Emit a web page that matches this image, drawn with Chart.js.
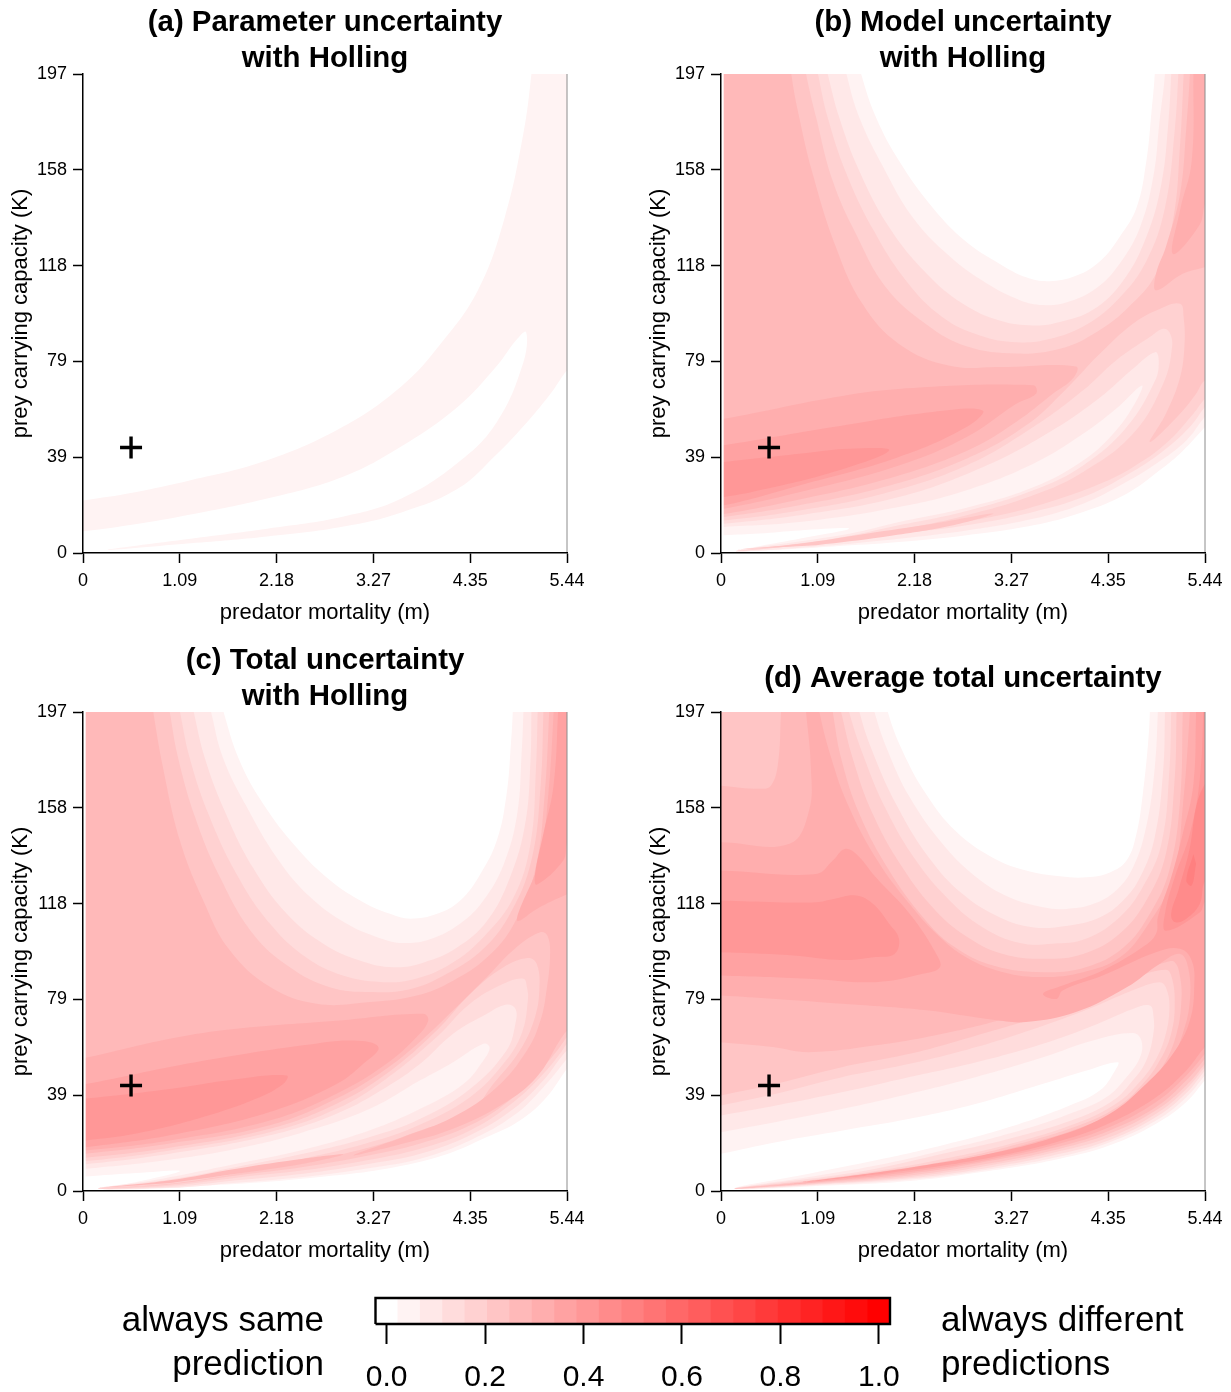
<!DOCTYPE html>
<html><head><meta charset="utf-8">
<script src="https://cdn.jsdelivr.net/npm/chart.js@4"></script>
<style>
html,body{margin:0;padding:0;background:#fff;width:1231px;height:1392px;overflow:hidden}
canvas{position:absolute}
.lab{position:absolute;font-family:'Liberation Sans',Arial,sans-serif;font-size:35px;line-height:44px;color:#000;white-space:nowrap}
</style></head><body>
<canvas id="pa" width="593" height="632" style="left:0;top:2px"></canvas>
<canvas id="pb" width="593" height="632" style="left:638px;top:2px"></canvas>
<canvas id="pc" width="593" height="632" style="left:0;top:640px"></canvas>
<canvas id="pd" width="593" height="632" style="left:638px;top:640px"></canvas>
<canvas id="bar" width="660" height="107" style="left:300px;top:1285px"></canvas>
<div class="lab" style="right:907px;top:1297px;text-align:right">always same<br>prediction</div>
<div class="lab" style="left:941px;top:1297px">always different<br>predictions</div>
<script>
// axis ticks
const xTickValues=[0,1.088,2.176,3.264,4.352,5.44];
const xTickLabels=['0','1.09','2.18','3.27','4.35','5.44'];
const yTickValues=[0,39.4,78.8,118.2,157.6,197];
const yTickLabels=['0','39','79','118','158','197'];
const crossPoint=[0.54,43.4];
const barValues=[0,1,2,3,4,5,6,7,8,9,10,11,12,13,14,15,16,17,18,19,20,21,22].map(k=>k/22);
const barTicks=[0,0.2,0.4,0.6,0.8,1.0];
const barTickLabels=['0.0','0.2','0.4','0.6','0.8','1.0'];

// (a) contour outline, [predator mortality, prey capacity]; outlines run past the axes and are clipped there
const a_L1=[[-.3,20],[0,21.6],[.57,24.9],[1.21,29.9],[2.07,38.1],[2.93,52.1],[3.58,68.6],[4.0,85.1],[4.44,108.2],[4.74,138],[4.95,172.6],[5.04,197],[5.08,215],[5.7,215],[5.7,86],[5.44,75.2],[5.25,65.3],[4.95,52.1],[4.65,40.6],[4.22,26.6],[3.58,16.7],[2.93,10.9],[2.07,6.8],[1.21,4],[.27,1.3],[1.21,5.9],[2.07,10],[2.93,15],[3.58,22.4],[4.22,37.3],[4.65,53.8],[4.95,78.5],[4.98,90.9],[4.87,87.6],[4.65,76.9],[4.22,60.4],[3.58,43.9],[2.93,31.5],[2.07,22.4],[1.21,15.8],[.57,11.7],[0,8.9],[-.3,8]];

// (b) contours
const b_L1=[[-.3,215],[1.45,215],[1.575,197],[1.744,179],[2.006,161],[2.38,142],[2.756,128],[3.13,119],[3.43,113.4],[3.69,111.8],[3.99,114],[4.26,120],[4.48,130],[4.67,142],[4.78,161],[4.84,182],[4.875,197],[4.89,215],[5.7,215],[5.7,62],[5.44,51.8],[5.19,42],[4.93,34],[4.56,24.4],[4.07,16.9],[3.51,11.4],[2.76,7.3],[2,4.5],[1.26,2.7],[.51,1.1],[.17,.8],[.88,5.9],[1.44,10],[.88,9.3],[.43,8],[.03,7.3],[-.3,6.8]];
const b_L2=[[-.3,215],[1.3,215],[1.41,197],[1.556,179],[1.82,159],[2.156,138],[2.57,122],[2.98,111],[3.36,104],[3.62,102],[3.88,103],[4.22,109],[4.48,119],[4.71,134],[4.86,155],[4.93,178],[4.99,197],[5.01,215],[5.7,215],[5.7,66],[5.44,56],[5.23,46.3],[4.89,36.7],[4.52,28.5],[4.07,20.3],[3.51,14.1],[2.76,9.3],[2,5.9],[1.07,2.7],[.17,.8],[1.44,7.9],[2,12.7],[2.76,18.6],[3.51,27],[4.07,38],[4.44,50.4],[4.67,62.7],[4.73,68.9],[4.44,59.3],[4.07,49],[3.51,36.7],[2.76,25.8],[2,18.9],[.88,12.7],[.03,10.7],[-.3,10]];
const b_L3=[[-.3,215],[1.09,215],[1.2,197],[1.33,179],[1.556,157],[1.89,134],[2.31,115],[2.72,102.5],[3.13,95.6],[3.51,93.6],[3.81,95],[4.18,100],[4.52,112],[4.78,130],[4.95,152],[5.03,178],[5.06,197],[5.08,215],[5.7,215],[5.7,70],[5.44,60],[5.27,51.8],[4.93,40.8],[4.52,31.2],[4.07,23],[3.51,16.9],[2.76,11.4],[2,7.9],[1.07,3.8],[.17,.8],[1.26,5.9],[2,11.4],[2.76,17.3],[3.51,25.8],[4.07,36],[4.56,51.8],[4.88,71],[4.92,79],[4.88,82.6],[4.63,75.8],[4.26,64],[3.69,49.7],[2.94,35.3],[2,23],[.88,15.5],[.03,12],[-.3,11]];
const b_L4=[[-.3,215],[.99,215],[1.09,197],[1.2,179],[1.41,156],[1.71,133],[2.08,112],[2.49,97],[2.91,89.5],[3.32,86.7],[3.69,88],[4.11,94],[4.48,105],[4.78,120],[4.99,142],[5.1,174],[5.14,197],[5.16,215],[5.7,215],[5.7,72],[5.44,63.4],[5.31,57.3],[5,45],[4.63,35.3],[4.26,28.5],[3.69,21],[3.13,15.5],[2.38,10.7],[1.63,6.6],[.88,3.2],[.17,.8],[1.07,4.5],[2,9.6],[2.76,15.5],[3.51,23.7],[4.07,33.3],[4.63,49],[4.97,69.6],[5.07,84.7],[5.04,90.8],[4.97,92.2],[4.82,88.8],[4.44,79.2],[4.07,66.9],[3.51,51.8],[2.76,36],[1.82,24.4],[.88,17.5],[.03,13.4],[-.3,13]];
const b_L5=[[-.3,215],[.87,215],[.956,197],[1.07,179],[1.256,153],[1.52,131],[1.86,109],[2.31,94],[2.76,85],[3.32,82],[3.81,84],[4.18,90],[4.56,100.4],[4.89,114.8],[5.08,136.7],[5.16,168],[5.2,197],[5.22,215],[5.7,215],[5.7,76],[5.44,71],[5.34,65.5],[5.16,57.3],[4.82,45.6],[5,57.3],[5.16,72.3],[5.21,86],[5.2,97],[5.16,102.5],[4.93,100.4],[4.63,94.3],[4.26,82],[3.88,67.5],[3.43,52.5],[2.76,38.8],[1.82,27],[.88,19.6],[.03,14.8],[-.3,14]];
const b_L5b=[[.17,1.4],[.88,3.8],[1.63,7.9],[2.38,12],[3.06,16.2],[2.61,11.4],[1.82,6.6],[1.07,3.2]];
const b_L6=[[-.3,215],[.74,215],[.79,197],[.88,179],[1.03,156],[1.29,126],[1.59,102.5],[2,86],[2.57,77],[3.13,76.5],[3.99,76.7],[3.96,72],[3.73,65.5],[3.32,54],[2.76,42],[1.82,30],[.88,22],[.03,16],[-.3,15]];
const b_L6b=[[5.29,215],[5.27,197],[5.23,175],[5.16,147.7],[5,125.8],[4.89,114.8],[4.89,108],[5.19,114.8],[5.44,117.5],[5.7,120],[5.7,215]];
const b_L7=[[-.3,54],[.03,55.2],[1.26,64],[2,67.5],[3.51,69],[3.54,65.5],[3.32,61.4],[2.76,47.7],[2,36],[.88,25],[.03,18.2],[-.3,17]];
const b_L7b=[[5.31,215],[5.31,197],[5.29,161],[5.16,141],[5.08,123],[5.38,135],[5.44,143.6],[5.7,165],[5.7,215]];
const b_L8=[[-.3,43],[.03,44.3],[1.26,51.8],[2.38,58],[2.94,58.6],[2.76,51.8],[2,39.5],[.88,27.8],[.03,19.6],[-.3,19]];
const b_L9=[[-.3,36],[.03,37.4],[.88,40.8],[1.44,42.9],[1.89,42.2],[1.26,33.3],[.51,26.4],[.03,23],[-.3,22]];

// (c) contours
const c_L1=[[-.3,215],[1.45,215],[1.58,197],[1.76,177],[2.03,159],[2.4,141.3],[2.78,127.7],[3.15,118.8],[3.45,114],[3.68,112],[3.98,114],[4.24,119.5],[4.46,130],[4.65,144],[4.76,163],[4.81,184],[4.83,197],[4.84,215],[5.7,215],[5.7,62],[5.44,50.3],[5.21,38.6],[4.91,29],[4.54,22.2],[4.05,14.7],[3.41,9.2],[2.66,5.8],[1.91,3.4],[1.16,1.9],[.41,1],[.17,1],[.6,3.7],[1.09,8.2],[.6,7.4],[.03,6],[-.3,5.5]];
const c_L2=[[-.3,215],[1.33,215],[1.44,197],[1.575,178],[1.84,158],[2.18,137],[2.55,121],[2.96,110],[3.34,104],[3.6,102],[3.9,103.5],[4.24,110],[4.5,119.5],[4.73,134.5],[4.88,155],[4.93,180],[4.95,197],[4.96,215],[5.7,215],[5.7,66],[5.44,54.4],[5.175,42.7],[4.84,31],[4.35,20.8],[3.79,13.3],[3.225,9.5],[2.475,5.8],[1.725,3.4],[.975,1.2],[.17,1],[.79,4.4],[1.725,11.2],[2.475,17],[3.225,25],[3.79,33.8],[4.275,44],[4.5,53.7],[4.57,59],[4.5,60.6],[4.16,53],[3.79,45.5],[3.225,33.8],[2.475,24.2],[1.725,17.4],[.975,12.9],[.03,9.2],[-.3,8.5]];
const c_L3=[[-.3,215],[1.14,215],[1.245,197],[1.37,178],[1.59,156.5],[1.91,133],[2.29,114],[2.7,101.7],[3.11,94.8],[3.49,92],[3.83,94],[4.2,100],[4.54,111],[4.8,129],[4.97,151],[5.03,177],[5.04,197],[5.05,215],[5.7,215],[5.7,66],[5.44,57.8],[5.36,54.4],[5.175,45.5],[4.84,33.8],[4.35,22.9],[3.79,15.3],[3.225,11.2],[2.475,7.1],[1.725,4.4],[.975,1.6],[.17,1],[.975,4.7],[1.725,9.9],[2.475,15.3],[3.225,22.2],[3.79,29.7],[4.35,42],[4.76,57.8],[4.86,68.8],[4.86,75],[4.76,76.7],[4.54,72.9],[4.16,64.7],[3.79,52.3],[3.41,42.7],[2.85,31.8],[2.1,22.9],[.975,15.3],[.03,11],[-.3,10.5]];
const c_L4=[[-.3,215],[.99,215],[1.09,197],[1.2,178],[1.41,155],[1.725,130.4],[2.1,110],[2.51,96],[2.92,88.6],[3.34,86],[3.71,87],[4.13,93.4],[4.5,104.4],[4.84,120.8],[5.03,142.8],[5.09,172.9],[5.11,197],[5.12,215],[5.7,215],[5.7,70],[5.44,60.6],[5.36,56.4],[5.175,48.2],[4.84,36.6],[4.35,24.9],[3.79,17.4],[3.225,12.9],[2.475,8.5],[1.725,5.5],[.975,2.2],[.17,1],[.975,3.8],[1.725,8.5],[2.475,13.3],[3.225,20],[3.79,27.4],[4.35,38.6],[4.725,52.3],[4.93,64.7],[5,78.4],[4.99,83.8],[4.95,87.3],[4.725,85.2],[4.35,77],[3.975,63.3],[3.41,46.2],[2.85,33.8],[2.1,24.2],[.975,16.7],[.03,12.3],[-.3,12]];
const c_L5=[[-.3,215],[.89,215],[.975,197],[1.07,178],[1.26,153.7],[1.54,129],[1.91,105.8],[2.325,92],[2.775,83.8],[3.225,81.8],[3.675,83],[4.09,89.3],[4.5,99.6],[4.8,114],[5.04,135.9],[5.145,167.4],[5.175,197],[5.19,215],[5.7,215],[5.7,74],[5.44,63.3],[5.36,59.2],[5.175,51],[4.84,38.6],[4.35,27],[3.79,19.5],[3.225,14.7],[2.475,9.9],[1.725,6.4],[.975,2.7],[.17,1],[.975,3],[1.725,7.1],[2.475,11.9],[3.225,18],[3.79,24.9],[4.35,32.5],[4.61,44],[4.91,57.8],[5.08,71.5],[5.13,83.8],[5.1,93.4],[5,95.8],[4.725,92],[4.35,81],[3.975,66],[3.41,48.2],[2.85,35.9],[2.1,25.6],[.975,17.8],[.03,13.7],[-.3,13]];
const c_L6=[[-.3,215],[.72,215],[.79,197],[.9,174],[1.09,144],[1.35,119.6],[1.65,99],[2.1,84],[2.625,77],[3.225,77.7],[3.75,80.4],[4.16,86.5],[4.54,96],[4.84,109.6],[5.08,131.7],[5.19,163.3],[5.24,197],[5.26,215],[5.7,215],[5.7,76],[5.44,66],[5.36,62],[5.1,46.9],[4.725,35.9],[4.16,25.6],[3.6,19.5],[3.04,14.7],[3.6,22.2],[4.16,30.4],[4.65,42.7],[4.99,57.8],[5.14,70],[5.21,82.5],[5.25,97.5],[5.22,105],[5.14,106.4],[4.875,100.3],[4.54,88],[4.16,74.3],[3.825,62.6],[3.41,50.3],[2.85,38],[2.1,27],[.975,19.5],[.03,15.3],[-.3,14.5]];
const c_L6b=[[.17,1.2],[.975,4.4],[1.725,9.2],[2.475,13.3],[2.925,15],[2.475,11.2],[1.725,7.1],[.975,3.3]];
const c_L7=[[-.3,53],[.03,54.8],[.975,62.6],[1.725,66.7],[2.85,70],[3.825,72.9],[3.88,70],[3.75,63.3],[3.41,52.3],[2.85,40],[2.1,29],[.975,20.8],[.03,16.7],[-.3,16]];
const c_L7b=[[5.31,215],[5.29,197],[5.23,163],[5.13,136],[4.89,114],[4.89,111],[5.1,116],[5.44,122],[5.7,126],[5.7,215]];
const c_L8=[[-.3,43],[.03,44],[.975,51],[1.725,55.8],[2.475,59.9],[3.04,61.9],[3.32,59.2],[3.15,52.3],[2.85,44],[2.1,32.5],[.975,22.9],[.03,18],[-.3,17]];
const c_L8b=[[5.36,215],[5.34,197],[5.29,167],[5.175,147],[5.08,130],[5.1,126],[5.4,136],[5.44,143],[5.7,170],[5.7,215]];
const c_L9=[[-.3,37],[.03,38],[.975,42],[1.725,46],[2.29,47.5],[2.25,44],[1.95,38],[1.35,30.4],[.6,23.6],[.03,20.8],[-.3,20]];

// (d) contours
const d_L1=[[-.3,215],[1.76,215],[1.875,197],[2.04,181],[2.31,163],[2.64,148],[3.06,137],[3.43,131.8],[3.81,129.4],[4.11,129],[4.37,131],[4.56,136],[4.67,147],[4.74,163],[4.8,184],[4.82,197],[4.83,215],[5.7,215],[5.7,56],[5.44,45.5],[5.23,36.6],[4.89,27.7],[4.37,18.8],[3.81,13.3],[3.06,8.5],[2.12,4.1],[.99,1.9],[.15,1],[.99,7.1],[1.74,12.6],[2.49,18.8],[3.24,26.3],[3.92,35.2],[4.26,41.4],[4.43,49.6],[4.46,53],[4.11,49.6],[3.62,44.1],[2.87,35.9],[2.12,29.7],[1.37,24.9],[.62,20.1],[0,15.3],[-.3,13]];
const d_L2=[[-.3,215],[1.61,215],[1.725,197],[1.875,181],[2.12,162],[2.49,142.8],[2.87,129],[3.24,120.8],[3.62,116.7],[3.88,116],[4.18,118],[4.44,123.6],[4.63,133],[4.78,150],[4.875,174],[4.91,197],[4.93,215],[5.7,215],[5.7,58],[5.44,47.5],[5.23,38.6],[4.89,29],[4.37,20.1],[3.81,14.2],[3.06,9.2],[2.12,4.7],[.99,2.2],[.15,1],[.99,5.8],[1.74,10.5],[2.49,16.7],[3.24,23.6],[3.92,31.8],[4.33,38.6],[4.56,46.9],[4.71,55],[4.725,61.9],[4.63,65],[4.18,61.9],[3.62,55],[2.87,46.9],[2.12,40],[1.37,33.8],[.62,28.4],[0,24.2],[-.3,22]];
const d_L3=[[-.3,215],[1.45,215],[1.556,197],[1.7,181],[1.97,159],[2.34,137],[2.72,122],[3.13,112.6],[3.5,108.5],[3.88,109],[4.26,112.6],[4.52,119.5],[4.71,129],[4.875,145.5],[4.97,173],[4.99,197],[5.0,215],[5.7,215],[5.7,60],[5.44,49.6],[5.23,40.3],[4.89,30.4],[4.37,21],[3.81,15.3],[3.06,9.9],[2.12,5.2],[.99,2.5],[.15,1],[.99,5],[1.74,9.2],[2.49,15.3],[3.24,21.5],[3.99,29.7],[4.41,37.3],[4.63,45.5],[4.78,53.7],[4.86,64.7],[4.86,72.2],[4.82,76.3],[4.63,74.9],[4.18,68],[3.62,60.6],[2.87,53],[2.12,46.9],[1.37,40.7],[.62,35.2],[0,31.1],[-.3,29]];
const d_L4=[[-.3,215],[1.32,215],[1.44,197],[1.59,180],[1.84,158],[2.19,136],[2.57,119.5],[2.94,108.5],[3.36,102],[3.73,101.7],[4.1,103.7],[4.48,112.6],[4.74,125],[4.95,142.8],[5.04,173],[5.06,197],[5.07,215],[5.7,215],[5.7,62],[5.44,51],[5.23,42],[4.89,31.8],[4.37,22.2],[3.81,16.4],[3.06,10.8],[2.12,5.8],[.99,2.7],[.15,1],[.99,4.4],[1.74,8.2],[2.57,13.7],[3.32,20.1],[4.03,28.4],[4.44,35.9],[4.67,43.4],[4.86,52.3],[4.99,63.3],[5.04,75.6],[5,83.8],[4.93,85.9],[4.67,83.2],[4.18,75.6],[3.62,68],[2.87,59.2],[2.12,52.3],[1.37,46.9],[.62,40],[0,35.2],[-.3,33]];
const d_L5=[[-.3,215],[1.23,215],[1.35,197],[1.48,178],[1.706,155],[2.04,133],[2.42,115],[2.79,104],[3.17,97.5],[3.62,95.5],[4.07,97.5],[4.48,105.8],[4.78,119.5],[5,138.6],[5.1,170],[5.12,197],[5.13,215],[5.7,215],[5.7,64],[5.44,52.3],[5.23,43.4],[4.89,33.2],[4.37,23.6],[3.81,17.4],[3.06,11.6],[2.12,6.4],[.99,3],[.15,1],[.99,4.1],[1.74,7.8],[2.61,12.9],[3.36,19.5],[4.07,27.7],[4.48,35.2],[4.725,43.4],[4.91,52.3],[5.06,64.7],[5.1,78.4],[5.06,88.6],[5,91],[4.67,88],[4.18,79.7],[3.62,72.2],[2.87,64],[2.12,56.4],[1.37,51],[.62,44.1],[0,39.3],[-.3,37]];
const d_L6=[[.66,215],[1.17,215],[1.256,197],[1.35,178],[1.556,155],[1.89,131.8],[2.27,112.6],[2.6,101],[3.06,92.7],[3.62,90],[4.1,92],[4.52,100],[4.82,114],[5.04,132],[5.16,160.6],[5.19,197],[5.2,215],[5.7,215],[5.7,66],[5.44,54.4],[5.23,45.5],[4.89,34.5],[4.37,24.9],[3.81,18.4],[3.06,12.6],[2.12,7.1],[.99,3.3],[.15,1],[.99,3.7],[1.74,7.4],[2.64,12.3],[3.39,18.8],[4.11,27],[4.52,34.8],[4.76,42.7],[4.97,51.6],[5.12,64.7],[5.175,78.4],[5.16,88],[5.1,94.1],[5,94.1],[4.56,89.3],[3.99,81],[3.24,71.5],[2.49,64.7],[1.74,59.9],[.99,57.1],[.58,59.2],[0,61.2],[-.3,62],[-.3,167],[0,166.7],[.43,165.4],[.56,166.7],[.64,175.6],[.675,197]];
const d_L7=[[.95,215],[1.03,215],[1.106,197],[1.24,178],[1.425,159],[1.74,137],[2.12,118],[2.42,105.8],[2.76,96],[3.17,90],[3.62,88],[4.07,90],[4.48,96],[4.78,108.5],[5.08,129],[5.19,157.8],[5.27,197],[5.29,215],[5.7,215],[5.7,68],[5.44,56.4],[5.23,47.5],[4.89,36.6],[4.37,26.3],[3.81,19.5],[3.06,13.3],[2.12,7.8],[.99,3.4],[.81,3],[.99,3.6],[1.74,6.8],[2.68,11.9],[3.43,18],[4.14,26.3],[4.56,34.3],[4.8,42],[5.03,51.6],[5.19,64.7],[5.27,78.4],[5.25,92],[5.16,97.5],[4.93,93.4],[4.56,83.8],[3.99,73.6],[3.43,69.5],[3.06,70.4],[2.31,74.3],[1.37,77],[.62,79],[0,80.4],[-.3,81],[-.3,143],[0,143.4],[.77,142.8],[.99,156.5],[1.01,174.3],[.956,197]];
const d_L8=[[-.3,132],[0,131.8],[1.07,130.4],[1.256,135.9],[1.39,140.7],[1.52,138.6],[1.74,129],[2.12,114],[2.42,97.5],[2.46,92],[2.27,89.3],[1.74,85.9],[.99,87.3],[0,88.6],[-.3,89]];
const d_L8b=[[5.36,215],[5.7,215],[5.7,68],[5.44,59.2],[5.23,49.6],[4.89,38.6],[4.37,28],[3.81,20.6],[3.06,14],[2.12,8.5],[1.18,4.4],[.92,3.7],[1.18,4.9],[2.12,9.6],[3.06,15.6],[3.81,22.9],[4.37,31.8],[4.78,44.1],[5.08,56.4],[5.27,70.1],[5.32,85.2],[5.29,94.8],[5.16,99.6],[4.89,98.2],[4.29,88.6],[3.84,82.5],[3.77,79],[3.62,81.1],[3.84,84.5],[4.29,90.7],[4.74,100.3],[4.89,105.8],[4.91,112.6],[5.06,129],[5.19,146.9],[5.31,167.4],[5.34,197]];
const d_L9=[[-.3,119.5],[0,119.5],[.62,118.8],[1.07,118.8],[1.256,120],[1.52,121.5],[1.71,118],[1.89,109.9],[2,103.7],[1.95,97.5],[1.74,96.2],[1.37,95],[.81,96.9],[0,98.2],[-.3,98.5]];
const d_L9b=[[5.42,215],[5.42,197],[5.38,168.8],[5.27,146.9],[5.1,129],[4.99,114],[5,107],[5.38,114.5],[5.44,119],[5.7,130],[5.7,215]];
const d_L10=[[5.7,180],[5.44,167.4],[5.34,157.8],[5.27,141.3],[5.14,123.6],[5.06,114],[5.1,110.6],[5.23,112],[5.38,118],[5.44,127.6],[5.7,140]];
const d_L11=[[5.31,138.6],[5.23,127.7],[5.29,125.6],[5.34,134.5]];

// level index -> outlines
const panelA=[[1,a_L1]];
const panelB=[[1,b_L1],[2,b_L2],[3,b_L3],[4,b_L4],[5,b_L5],[5,b_L5b],[6,b_L6],[6,b_L6b],[7,b_L7],[7,b_L7b],[8,b_L8],[9,b_L9]];
const panelC=[[1,c_L1],[2,c_L2],[3,c_L3],[4,c_L4],[5,c_L5],[6,c_L6],[6,c_L6b],[7,c_L7],[7,c_L7b],[8,c_L8],[8,c_L8b],[9,c_L9]];
const panelD=[[1,d_L1],[2,d_L2],[3,d_L3],[4,d_L4],[5,d_L5],[6,d_L6],[7,d_L7],[8,d_L8],[8,d_L8b],[9,d_L9],[9,d_L9b],[10,d_L10],[11,d_L11]];

Chart.defaults.font.family="'Liberation Sans',Arial,sans-serif";
Chart.defaults.color='#000';
const levelColor=k=>{const g=Math.round(255*(1-k/22));return `rgb(255,${g},${g})`;};

// fills each closed outline with the line element's own path
const contourFill={id:'contourFill',beforeDatasetDraw(chart,args){
  const ds=chart.data.datasets[args.index];
  if(!ds.contour)return;
  const line=args.meta.dataset,ctx=chart.ctx,area=chart.chartArea;
  ctx.save();
  ctx.beginPath();ctx.rect(area.left,area.top,area.right-area.left,area.bottom-area.top);ctx.clip();
  line.updateControlPoints(area,'x');
  ctx.beginPath();line.path(ctx);ctx.closePath();
  ctx.fillStyle=ds.contourColor;ctx.fill();
  ctx.restore();
}};

function panel(id,title,titlePad,polys,leftGap){
  const datasets=polys.map(([k,p],i)=>({contour:true,contourColor:levelColor(k),
    data:p.map(q=>({x:q[0],y:q[1]})),showLine:true,fill:false,borderWidth:0,pointRadius:0,tension:0.4,order:1000-k*10-i*0.01}));
  if(leftGap)datasets.push({data:[{x:leftGap/2,y:0},{x:leftGap/2,y:197}],showLine:true,borderColor:'#fff',borderWidth:2.7,pointRadius:0,order:6});
  datasets.push({data:[{x:5.44,y:0},{x:5.44,y:197}],showLine:true,borderColor:'#8c8c8c',borderWidth:1,pointRadius:0,clip:false,order:5});
  datasets.push({data:[{x:crossPoint[0],y:crossPoint[1]}],pointStyle:'cross',pointRadius:11,pointBorderWidth:3.4,borderColor:'#000',pointBorderColor:'#000',showLine:false,order:1});
  new Chart(document.getElementById(id),{type:'scatter',data:{datasets},plugins:[contourFill],options:{
    responsive:false,animation:false,devicePixelRatio:1,
    layout:{padding:{right:26}},
    plugins:{legend:{display:false},tooltip:{enabled:false},
      title:{display:true,text:title,fullSize:false,color:'#000',font:{size:29.4,weight:'bold',lineHeight:36/29.4},padding:titlePad}},
    scales:{
      x:{type:'linear',min:0,max:5.44,afterFit:s=>{s.height=81;},
        afterBuildTicks:s=>{s.ticks=xTickValues.map(v=>({value:v}));},
        ticks:{font:{size:18},padding:7,maxRotation:0,callback:(v,i)=>xTickLabels[i]},
        grid:{z:1,drawOnChartArea:false,tickLength:10,tickColor:'#000',tickWidth:1.5},border:{z:1,color:'#000',width:1.5},
        title:{display:true,text:'predator mortality (m)',font:{size:22},padding:{top:0,bottom:8}}},
      y:{type:'linear',min:0,max:197,afterFit:s=>{s.width=83;},
        afterBuildTicks:s=>{s.ticks=yTickValues.map(v=>({value:v}));},
        ticks:{font:{size:18},padding:6,callback:(v,i)=>yTickLabels[i]},
        grid:{z:1,drawOnChartArea:false,tickLength:10,tickColor:'#000',tickWidth:1.5},border:{z:1,color:'#000',width:1.5},
        title:{display:true,text:'prey carrying capacity (K)',font:{size:22},padding:{top:8,bottom:0}}}
    }}});
}
const pad2={top:2.5,bottom:-2.5},pad1={top:20.5,bottom:15.5};
panel('pa',['(a) Parameter uncertainty','with Holling'],pad2,panelA,0);
panel('pb',['(b) Model uncertainty','with Holling'],pad2,panelB,0.03);
panel('pc',['(c) Total uncertainty','with Holling'],pad2,panelC,0.03);
panel('pd','(d) Average total uncertainty',pad1,panelD,0);

// colour bar
const half=1/44;
new Chart(document.getElementById('bar'),{type:'bar',data:{datasets:[
  {type:'scatter',data:[{x:-half,y:0},{x:1+half,y:0},{x:1+half,y:1},{x:-half,y:1},{x:-half,y:0}],showLine:true,borderColor:'#000',borderWidth:2.4,pointRadius:0,clip:false,order:1},
  {type:'bar',data:barValues.map(v=>({x:v,y:1})),backgroundColor:barValues.map(v=>levelColor(Math.round(v*22))),barPercentage:1.03,categoryPercentage:1,order:2}
]},options:{responsive:false,animation:false,devicePixelRatio:1,
  layout:{padding:{left:75.5,right:70,top:13}},
  plugins:{legend:{display:false},tooltip:{enabled:false}},
  scales:{
    x:{type:'linear',offset:false,min:-half,max:1+half,afterFit:s=>{s.height=68;},
      afterBuildTicks:s=>{s.ticks=barTicks.map(v=>({value:v}));},
      ticks:{font:{size:30},padding:16,maxRotation:0,callback:(v,i)=>barTickLabels[i]},
      grid:{offset:false,drawOnChartArea:false,tickLength:20,tickColor:'#000',tickWidth:2},border:{display:false}},
    y:{display:false,min:0,max:1}
  }}});
</script>
</body></html>
